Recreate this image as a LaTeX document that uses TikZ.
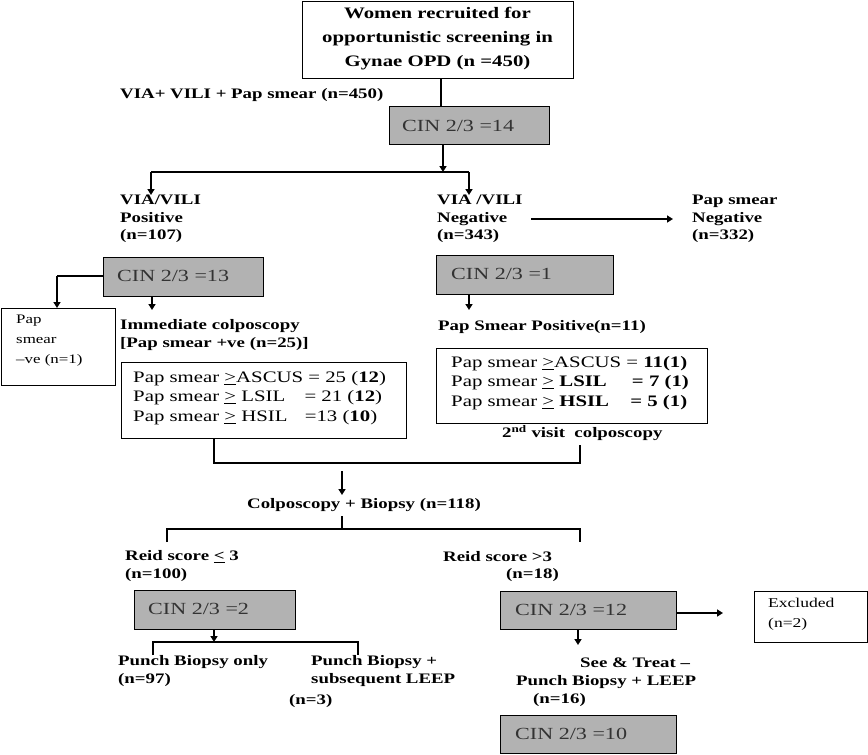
\documentclass[tikz,border=0pt]{standalone}
\usepackage{fontspec}
\setmainfont{Liberation Serif}[FakeStretch=1.3]
\usetikzlibrary{arrows.meta}
\begin{document}
\begin{tikzpicture}[x=1pt,y=-1pt,
  grey/.style={draw,line width=1.3pt,fill=black!30,anchor=north west,inner sep=0pt},
  wbox/.style={draw,line width=1.3pt,fill=white,anchor=north west,inner sep=0pt},
  lbl/.style={font=\bfseries\fontsize{14.5}{17.5}\selectfont,align=left,anchor=west,inner sep=0pt},
  ln/.style={line width=1.5pt},
  arr/.style={line width=1.5pt,-{Triangle[length=6pt,width=7pt]}},
  gtxt/.style={font=\fontsize{17}{20}\selectfont,anchor=west,inner sep=0pt,text=black!80},
  ptxt/.style={font=\fontsize{16}{19.5}\selectfont,align=left,anchor=west,inner sep=0pt}]
\useasboundingbox (0,0) rectangle (868,755);
% top box
\node[wbox,minimum width=271pt,minimum height=77pt] (top) at (302,1) {};
\node[font=\bfseries\fontsize{16}{24}\selectfont,align=center] (toptxt) at (437.5,39) {Women recruited for\\opportunistic screening in\\Gynae OPD (n =450)};
\node[lbl] (via) at (120,95) {VIA+ VILI + Pap smear (n=450)};
\node[grey,minimum width=160pt,minimum height=38pt] (c14) at (389,106) {};
\node[gtxt] at (402,126) {CIN 2/3 =14};
\draw[ln] (441,78) coordinate (t1) -- (441,106) coordinate (t2);
\coordinate (s1) at (443,144);
\coordinate (sp) at (443,172);
\draw[arr] (s1) -- (sp);
\coordinate (spl) at (151,172);
\coordinate (spr) at (469,172);
\draw[ln] (spl) -- (spr);
\coordinate (pos) at (151,195);
\coordinate (neg) at (469,195);
\draw[arr] (spl) -- (pos);
\draw[arr] (spr) -- (neg);
\node[lbl] (vp) at (120,219) {VIA/VILI\\Positive\\(n=107)};
\node[lbl] (vn) at (437,219) {VIA /VILI\\Negative\\(n=343)};
\node[lbl] (pn) at (692,219) {Pap smear\\Negative\\(n=332)};
\coordinate (h1) at (531,219);
\coordinate (h2) at (673,219);
\draw[arr] (h1) -- (h2);
% left branch
\node[grey,minimum width=160pt,minimum height=39pt] (c13) at (103,257) {};
\node[gtxt] at (117,276) {CIN 2/3 =13};
\node[wbox,minimum width=114pt,minimum height=77pt] (pneg) at (1,308) {};
\node[font=\fontsize{13}{20}\selectfont,align=left,anchor=north west,inner sep=0pt] at (16,315) {Pap\\smear\\–ve (n=1)};
\coordinate (l1) at (103,276);
\coordinate (l2) at (57,276);
\coordinate (l3) at (57,308);
\draw[ln] (l1) -- (l2);
\draw[arr] (l2) -- (l3);
\coordinate (a1) at (152,296);
\coordinate (a2) at (152,310);
\draw[arr] (a1) -- (a2);
\node[lbl] (imm) at (120,335) {Immediate colposcopy\\{[}Pap smear +ve (n=25)]};
\node[wbox,minimum width=285pt,minimum height=76pt] (b1) at (121,362) {};
\node[ptxt] at (133,398)
 {Pap smear \underline{>}ASCUS = 25 (\textbf{12})\\Pap smear \underline{>} LSIL \hspace{14pt}= 21 (\textbf{12})\\Pap smear \underline{>} HSIL \hspace{12pt}=13 (\textbf{10})};
% right branch
\node[grey,minimum width=177pt,minimum height=39pt] (c1) at (436,255) {};
\node[gtxt] at (451,274) {CIN 2/3 =1};
\coordinate (r1) at (469,294);
\coordinate (r2) at (469,310);
\draw[arr] (r1) -- (r2);
\node[lbl] (psp) at (438,327) {Pap Smear Positive(n=11)};
\node[wbox,minimum width=271pt,minimum height=75pt] (b2) at (436,348) {};
\node[ptxt] at (451,383)
 {Pap smear \underline{>}ASCUS = \textbf{11(1)}\\Pap smear \underline{>} \textbf{LSIL} \hspace{20pt}\textbf{= 7 (1)}\\Pap smear \underline{>} \textbf{HSIL} \hspace{16pt}\textbf{= 5 (1)}};
\node[lbl] (sv) at (502,433) {2\textsuperscript{nd} visit\ \ colposcopy};
% merge
\coordinate (m1) at (214,438);
\coordinate (m2) at (214,463);
\coordinate (m3) at (580,463);
\coordinate (m4) at (580,445);
\draw[ln] (m1) -- (m2) -- (m3) -- (m4);
\coordinate (d1) at (342,471);
\coordinate (d2) at (342,495);
\draw[arr] (d1) -- (d2);
\node[lbl] (cb) at (247,505) {Colposcopy + Biopsy (n=118)};
\coordinate (e1) at (342,516);
\coordinate (e2) at (342,529);
\coordinate (e3) at (167,529);
\coordinate (e4) at (167,542);
\coordinate (e5) at (580,529);
\coordinate (e6) at (580,542);
\draw[ln] (e1) -- (e2);
\draw[ln] (e4) -- (e3) -- (e5) -- (e6);
\node[lbl] (rl) at (125,566) {Reid score \underline{<} 3\\(n=100)};
\node[lbl] (rg) at (443,557) {Reid score >3};
\node[lbl] (rg2) at (506,575) {(n=18)};
% bottom left
\node[grey,minimum width=161pt,minimum height=39pt] (c2) at (134,590) {};
\node[gtxt] at (148,609) {CIN 2/3 =2};
\coordinate (f1) at (214,629);
\coordinate (f2) at (214,642);
\draw[arr] (f1) -- (f2);
\coordinate (g1) at (153,655);
\coordinate (g2) at (153,642);
\coordinate (g3) at (358,642);
\coordinate (g4) at (358,655);
\draw[ln] (g1) -- (g2) -- (g3) -- (g4);
\node[lbl] (pb) at (118,671) {Punch Biopsy only\\(n=97)};
\node[lbl] (pb2) at (311,671) {Punch Biopsy +\\subsequent LEEP};
\node[lbl] (pb3) at (289,701) {(n=3)};
% bottom right
\node[grey,minimum width=176pt,minimum height=38pt] (c12) at (500,591) {};
\node[gtxt] at (515,610) {CIN 2/3 =12};
\coordinate (x1) at (676,613);
\coordinate (x2) at (723,613);
\draw[arr] (x1) -- (x2);
\node[wbox,minimum width=113pt,minimum height=51pt] (exc) at (754,591) {};
\node[font=\fontsize{13.5}{20}\selectfont,align=left,anchor=north west,inner sep=0pt] at (768,598) {Excluded\\(n=2)};
\coordinate (y1) at (578,629);
\coordinate (y2) at (578,645);
\draw[arr] (y1) -- (y2);
\node[lbl] (st1) at (580,663) {See \& Treat –};
\node[lbl] (st2) at (516,682) {Punch Biopsy + LEEP};
\node[lbl] (st3) at (533,700) {(n=16)};
\node[grey,minimum width=176pt,minimum height=38pt] (c10) at (500,715) {};
\node[gtxt] at (515,734) {CIN 2/3 =10};
\end{tikzpicture}
\end{document}
